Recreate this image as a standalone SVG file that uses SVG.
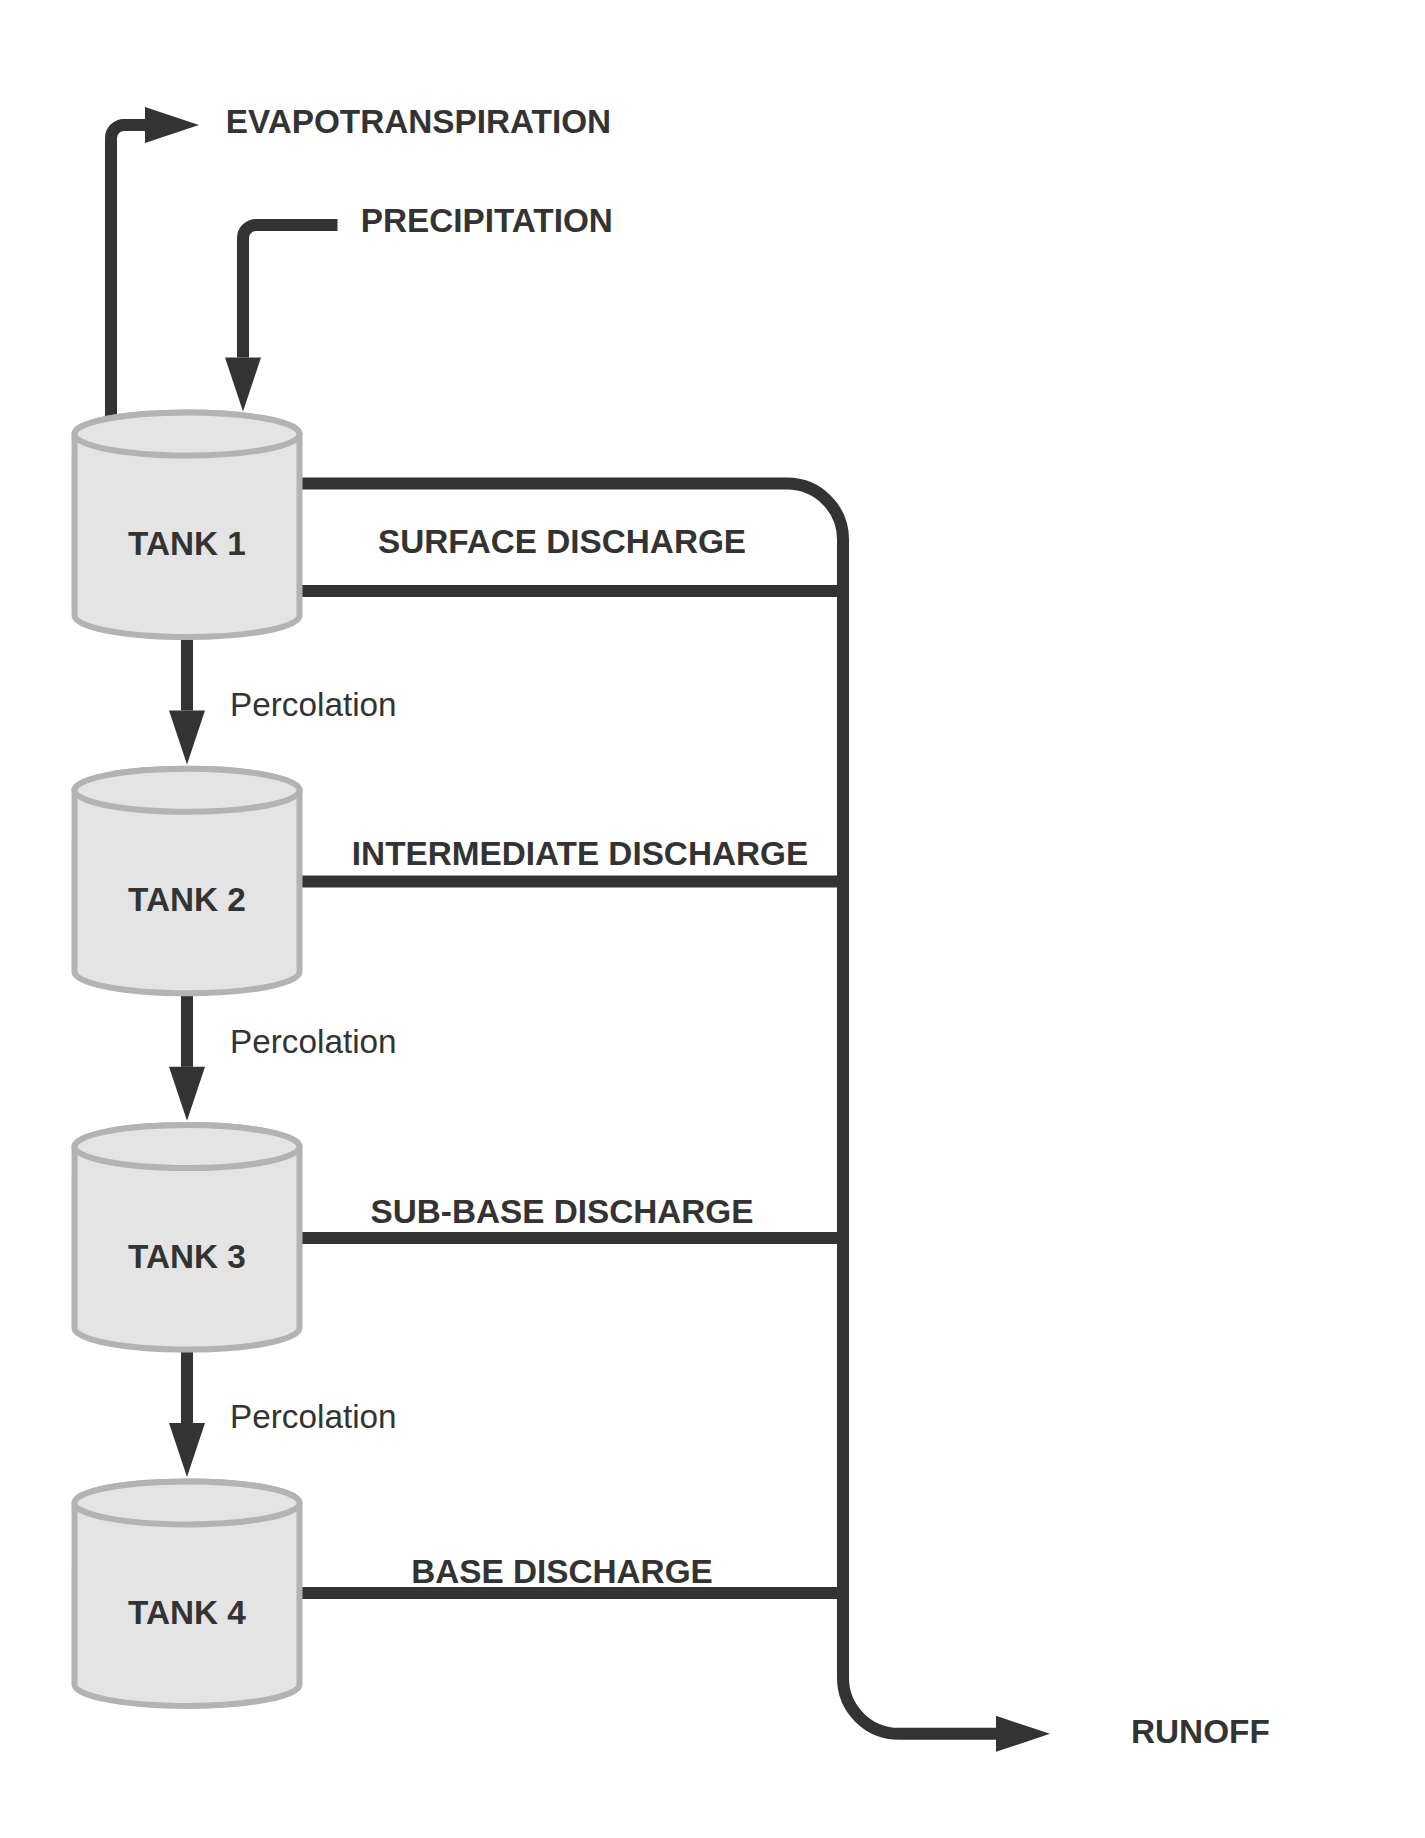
<svg xmlns="http://www.w3.org/2000/svg" width="1425" height="1838" viewBox="0 0 1425 1838">
  <style>
    .flow { fill: none; stroke: #333333; stroke-width: 12; stroke-linejoin: round; }
    .tank-body { fill: #e4e4e4; stroke: #b3b3b3; stroke-width: 6; }
    .label { font-family: "Liberation Sans", Arial, sans-serif; font-weight: bold; font-size: 33.3px; fill: #333333; }
    .tank-label { text-anchor: middle; }
    .note { font-family: "Liberation Sans", Arial, sans-serif; font-size: 33.3px; fill: #333333; }
  </style>
  <defs>
    <marker id="head" markerUnits="userSpaceOnUse" markerWidth="54" markerHeight="36" refX="0" refY="18" orient="auto" overflow="visible">
      <path d="M0,0 L54,18 L0,36 Z" fill="#333333"/>
    </marker>
    <g id="tank">
      <path class="tank-body" d="M74.5,434 A112.5,21.5 0 0 1 299.5,434 V615.5 A112.5,21.5 0 0 1 74.5,615.5 Z"/>
      <ellipse class="tank-body" cx="187" cy="434" rx="112.5" ry="21.5"/>
    </g>
  </defs>

  <rect width="1425" height="1838" fill="#ffffff"/>

  <!-- connectors -->
  <g id="connectors">
    <!-- evapotranspiration out of tank 1 -->
    <path class="flow" marker-end="url(#head)" d="M111,430 V138 A13,13 0 0 1 124,125 H145"/>
    <!-- precipitation into tank 1 -->
    <path class="flow" marker-end="url(#head)" d="M337.5,225 H256 A13,13 0 0 0 243,238 V357.5"/>
    <!-- surface discharge upper outlet, collector and runoff -->
    <path class="flow" marker-end="url(#head)" d="M300,483.5 H787 A56,56 0 0 1 843,539.5 V1677.8 A56,56 0 0 0 899,1733.8 H996"/>
    <!-- lateral outlets into the collector -->
    <path class="flow" d="M300,591 H843"/>
    <path class="flow" d="M300,881.5 H843"/>
    <path class="flow" d="M300,1238 H843"/>
    <path class="flow" d="M300,1593 H843"/>
    <!-- percolation between tanks -->
    <path class="flow" marker-end="url(#head)" d="M187,636 V710.5"/>
    <path class="flow" marker-end="url(#head)" d="M187,992.3 V1066.8"/>
    <path class="flow" marker-end="url(#head)" d="M187,1348.6 V1423.1"/>
  </g>

  <!-- tanks -->
  <g id="tank1">
    <use href="#tank"/>
    <text class="label tank-label" x="187" y="555">TANK 1</text>
  </g>
  <g id="tank2">
    <use href="#tank" transform="translate(0,356.3)"/>
    <text class="label tank-label" x="187" y="911.3">TANK 2</text>
  </g>
  <g id="tank3">
    <use href="#tank" transform="translate(0,712.6)"/>
    <text class="label tank-label" x="187" y="1267.6">TANK 3</text>
  </g>
  <g id="tank4">
    <use href="#tank" transform="translate(0,1068.9)"/>
    <text class="label tank-label" x="187" y="1623.9">TANK 4</text>
  </g>

  <!-- flow labels -->
  <g id="labels">
    <text class="label" x="225.7" y="132.7">EVAPOTRANSPIRATION</text>
    <text class="label" x="360.7" y="231.7">PRECIPITATION</text>
    <text class="label" x="562" y="553.3" text-anchor="middle">SURFACE DISCHARGE</text>
    <text class="label" x="580" y="865" text-anchor="middle">INTERMEDIATE DISCHARGE</text>
    <text class="label" x="562" y="1222.7" text-anchor="middle">SUB-BASE DISCHARGE</text>
    <text class="label" x="562" y="1583.3" text-anchor="middle">BASE DISCHARGE</text>
    <text class="label" x="1131" y="1742.7">RUNOFF</text>
    <text class="note" x="230" y="716">Percolation</text>
    <text class="note" x="230" y="1053.3">Percolation</text>
    <text class="note" x="230" y="1428">Percolation</text>
  </g>
</svg>
